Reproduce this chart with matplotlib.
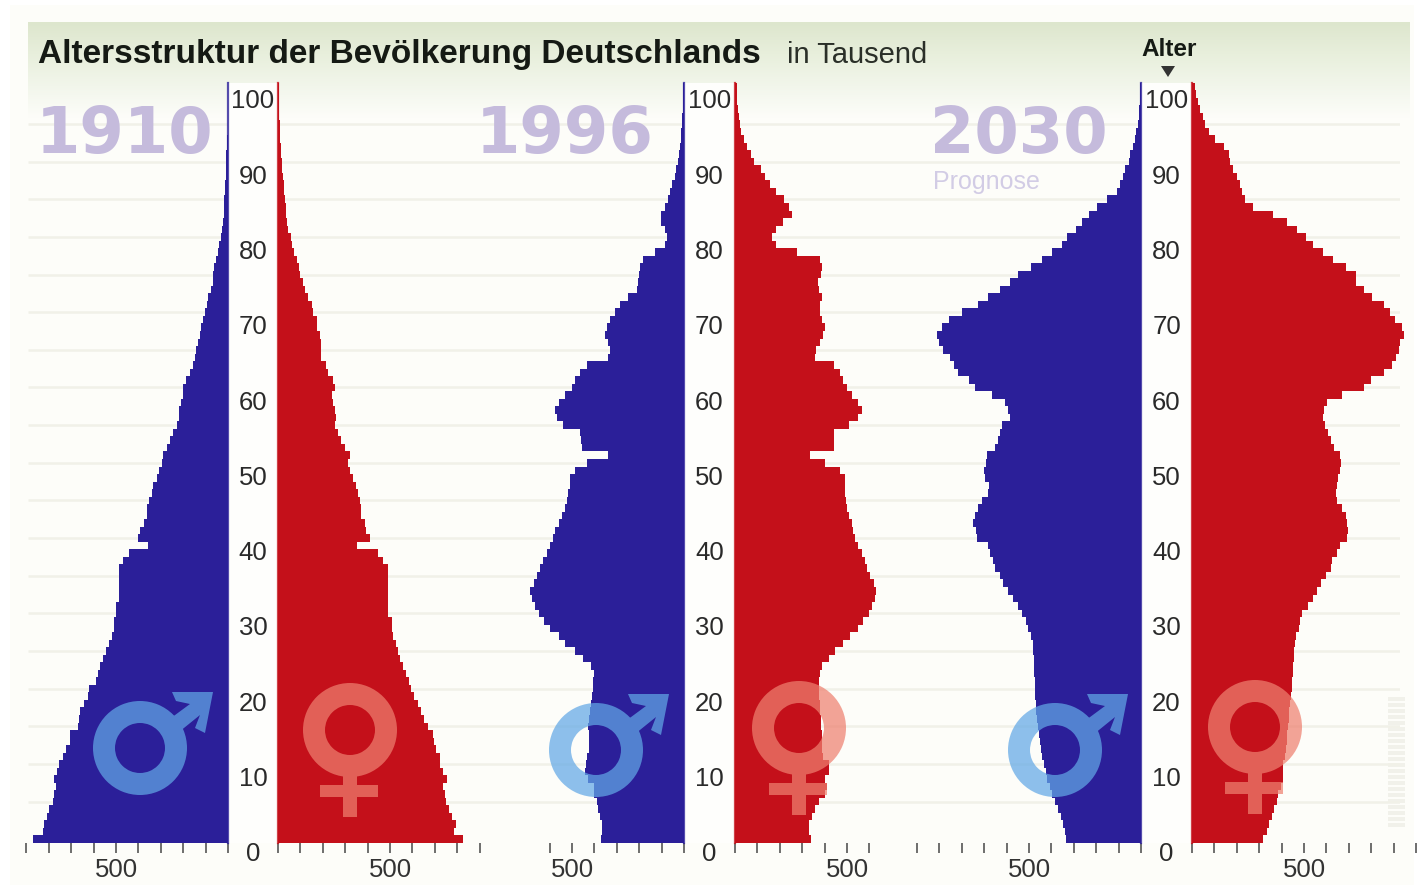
#!/usr/bin/env python3
"""Altersstruktur der Bevoelkerung Deutschlands: 1910, 1996, 2030 (age pyramids)."""
import numpy as np, matplotlib
matplotlib.use("Agg")
import matplotlib.pyplot as plt
from matplotlib.colors import LinearSegmentedColormap
from matplotlib.patches import PathPatch, Rectangle, Wedge, Polygon
from matplotlib.path import Path

W, H = 1424, 890
FONT = ["Liberation Sans", "DejaVu Sans"]
plt.rcParams.update({"font.family": FONT})

ages = list(range(101))

# thousands per single year of age, index = age
men_1910 = [870, 825, 820, 810, 800, 780, 778, 770, 778, 765,
            755, 738, 725, 705, 705, 670, 667, 660, 645, 625,
            620, 590, 580, 570, 560, 545, 533, 520, 510, 510,
            498, 498, 485, 485, 485, 485, 485, 470, 440, 355,
            400, 391, 373, 360, 360, 351, 338, 333, 316, 306,
            293, 289, 271, 258, 244, 227, 218, 218, 209, 200,
            200, 187, 169, 155, 147, 142, 133, 124, 120, 111,
            102, 93, 89, 76, 67, 65, 62, 52, 44, 40,
            31, 25, 22, 20, 18, 16, 14, 13, 11, 10,
            9, 7, 6, 3, 2, 2, 1, 1, 1, 0, 0]
women_1910 = [824, 787, 795, 779, 764, 750, 747, 735, 754, 735,
              723, 723, 705, 698, 690, 668, 653, 639, 624, 609,
              594, 587, 572, 557, 545, 535, 527, 513, 510, 510,
              490, 490, 490, 490, 490, 490, 490, 468, 446, 352,
              409, 394, 387, 372, 372, 364, 357, 350, 335, 320,
              313, 320, 298, 283, 268, 253, 261, 253, 246, 239,
              253, 246, 224, 216, 194, 194, 190, 187, 176, 172,
              157, 150, 135, 120, 110, 100, 92, 85, 72, 64,
              56, 46, 41, 37, 34, 31, 28, 25, 22, 20,
              18, 15, 13, 11, 9, 7, 6, 5, 4, 4, 3]
men_1996 = [370, 367, 367, 375, 382, 390, 400, 404, 427, 441,
            437, 431, 422, 422, 422, 427, 422, 419, 416, 412,
            407, 407, 404, 416, 449, 486, 530, 560, 597, 627,
            649, 664, 678, 689, 671, 656, 644, 630, 612, 597,
            585, 574, 560, 545, 530, 523, 516, 511, 508, 486,
            431, 338, 456, 459, 464, 538, 568, 574, 556, 530,
            501, 486, 464, 434, 338, 330, 338, 353, 345, 330,
            308, 286, 249, 212, 204, 200, 197, 182, 130, 86,
            78, 86, 101, 101, 86, 71, 61, 52, 41, 34,
            27, 24, 19, 15, 12, 10, 8, 6, 5, 4, 3]
women_1996 = [339, 329, 329, 344, 358, 373, 403, 410, 403, 418,
              418, 395, 388, 388, 388, 384, 384, 380, 378, 373,
              373, 373, 380, 388, 418, 447, 484, 514, 551, 573,
              596, 610, 625, 630, 621, 603, 588, 581, 566, 551,
              536, 529, 521, 507, 499, 495, 492, 492, 489, 470,
              403, 336, 440, 444, 444, 507, 551, 566, 551, 521,
              499, 484, 470, 440, 358, 363, 380, 395, 404, 388,
              378, 380, 388, 373, 370, 384, 388, 378, 277, 181,
              166, 181, 215, 255, 240, 218, 181, 158, 136, 114,
              87, 73, 55, 40, 28, 21, 17, 13, 11, 9, 7]
men_2030 = [333, 341, 348, 358, 372, 385, 396, 407, 418, 425,
            432, 440, 447, 451, 455, 459, 463, 467, 470, 472,
            474, 475, 477, 478, 479, 480, 484, 489, 503, 514,
            533, 548, 573, 593, 615, 630, 652, 659, 674, 681,
            733, 736, 748, 741, 726, 711, 681, 677, 696, 701,
            692, 689, 652, 637, 630, 622, 585, 593, 607, 667,
            741, 770, 815, 837, 852, 882, 904, 911, 889, 859,
            800, 726, 681, 630, 585, 551, 492, 440, 396, 351,
            329, 292, 262, 233, 196, 151, 107, 92, 80, 70,
            55, 47, 36, 25, 21, 15, 10, 8, 6, 5, 4]
women_2030 = [319, 333, 345, 356, 366, 378, 385, 396, 405, 408,
              408, 413, 418, 422, 426, 430, 432, 435, 438, 442,
              445, 448, 450, 452, 454, 456, 461, 464, 479, 483,
              493, 516, 538, 557, 575, 597, 619, 627, 649, 659,
              693, 698, 693, 689, 671, 649, 641, 649, 653, 659,
              664, 659, 634, 619, 609, 594, 585, 590, 604, 671,
              767, 797, 856, 893, 911, 923, 930, 945, 938, 908,
              886, 856, 805, 767, 730, 733, 689, 630, 585, 541,
              511, 467, 422, 363, 274, 237, 222, 215, 200, 185,
              170, 163, 141, 104, 74, 59, 49, 37, 25, 18, 14]

years = ["1910", "1996", "2030"]
men = [men_1910, men_1996, men_2030]
women = [women_1910, women_1996, women_2030]
male_edge = [228, 684, 1141]     # pixel x of the two inner axes
female_edge = [278, 735, 1192]
male_tick_max = [900, 600, 1000]
female_tick_max = [900, 600, 1000]
age_ticks = list(range(0, 101, 10))
grid_ages = list(range(5, 100, 5))

NAVY, RED = "#2B1F99", "#C4101A"
TOP, BOTTOM = 82.5, 843.0
PX = 0.224                       # pixels per thousand


def rect(x0, y0, x1, y1):
    return [x0 / W, 1 - y1 / H, (x1 - x0) / W, (y1 - y0) / H]


fig = plt.figure(figsize=(W / 100, H / 100), dpi=100, facecolor="white")

# page tint and green header band
page = fig.add_axes([0, 0, 1, 1], zorder=0)
page.set_xlim(0, W); page.set_ylim(H, 0); page.axis("off")
page.add_patch(Rectangle((10, 5), W - 20, H - 10, fc="#FDFDF9", ec="none"))
band = LinearSegmentedColormap.from_list(
    "band", ["#DDE6CD", "#E8EFDC", "#F2F6EB", "#FDFDF9"])
page.imshow(np.linspace(0, 1, 100).reshape(-1, 1), cmap=band, aspect="auto",
            extent=(28, 1410, 118, 22), zorder=1)
page.set_xlim(0, W); page.set_ylim(H, 0)
# scanner strip, bottom right
for y in range(697, 828, 6):
    page.add_patch(Rectangle((1388, y), 17, 4, fc="#F1F1EA", ec="none", zorder=1))

grid = fig.add_axes(rect(28, TOP, 1400, BOTTOM), zorder=1)
grid.patch.set_alpha(0); grid.axis("off")
grid.set_ylim(-0.5, 100.5); grid.set_xlim(0, 1)
grid.hlines(grid_ages, 0, 1, color="#F1F1E8", lw=1.8)

for i, year in enumerate(years):
    # gap holding the age labels
    mid = fig.add_axes(rect(male_edge[i], TOP, female_edge[i], BOTTOM), zorder=2)
    mid.set_xlim(0, 1); mid.set_ylim(-0.5, 100.5)
    mid.set_facecolor("#FEFEFC")
    for s in mid.spines.values():
        s.set_visible(False)
    mid.set_xticks([]); mid.set_yticks([])
    for a in age_ticks:
        # printed labels sit about 2 years below their bar
        mid.text(0.5, a - 2.0, str(a), ha="center", va="center",
                 fontsize=18.5, color="#2A2A2A")

    for side, values, edge, tick_max, color in (
            ("m", men[i], male_edge[i], male_tick_max[i], NAVY),
            ("w", women[i], female_edge[i], female_tick_max[i], RED)):
        span = 1100 * PX
        x0, x1 = (edge - span, edge) if side == "m" else (edge, edge + span)
        ax = fig.add_axes(rect(x0, TOP, x1, BOTTOM), zorder=3)
        ax.patch.set_alpha(0)
        ax.barh(ages, values, height=1.0, color=color, lw=0)
        ax.axvline(0, color=color, lw=1.6, alpha=0.8, clip_on=False)
        ax.set_xlim((1100, 0) if side == "m" else (0, 1100))
        ax.set_ylim(-0.5, 100.5)
        for s in ax.spines.values():
            s.set_visible(False)
        ax.set_yticks([])
        ticks = list(range(0, tick_max + 1, 100))
        ax.set_xticks(ticks)
        ax.set_xticklabels(["500" if t == 500 else "" for t in ticks],
                           fontsize=18.5, color="#333333")
        ax.tick_params(axis="x", length=7, width=1.2, color="#555555", pad=4)

# overlay in pixel coordinates: headline, years, sex symbols
top = fig.add_axes([0, 0, 1, 1], zorder=4)
top.patch.set_alpha(0); top.axis("off")
top.set_xlim(0, W); top.set_ylim(H, 0)

top.text(38, 55, "Altersstruktur der Bevölkerung Deutschlands",
         fontweight="bold", fontsize=24, color="#151A14", ha="left", va="center")
top.text(787, 55, "in Tausend", fontsize=21, color="#2A2F28",
         ha="left", va="center")
top.text(1169, 50, "Alter", fontweight="bold", fontsize=17.5,
         color="#151A14", ha="center", va="center")
top.add_patch(Polygon([(1161, 66), (1175, 66), (1168, 77)], fc="#333333", ec="none"))

for x, year in zip([36, 476, 930], years):
    top.text(x, 135, year, family=["DejaVu Sans"], fontweight="bold",
             fontsize=46, color="#C5BBDC", ha="left", va="center")
top.text(933, 182, "Prognose", fontsize=18, color="#D2CCE5",
         ha="left", va="center")


def ccw(points):
    pts = np.array(points, float)
    area = np.sum(pts[:, 0] * np.roll(pts[:, 1], -1) - np.roll(pts[:, 0], -1) * pts[:, 1])
    return pts if area > 0 else pts[::-1]


def symbol(cx, cy, points, color):
    wedge = Wedge((cx, cy), 47, 0, 360, width=22)
    ring = wedge.get_path().transformed(wedge.get_patch_transform())
    shape = ccw([(cx + dx, cy + dy) for dx, dy in points])
    shape = Path(np.vstack([shape, shape[:1]]), closed=True)
    top.add_patch(PathPatch(Path.make_compound_path(ring, shape), fc=color,
                            ec="none", alpha=0.72))


MALE = [(73, -56), (32, -56), (36, -47), (50, -44), (27, -27), (39, -16),
        (60, -33), (55, -20), (65, -15)]
FEMALE = [(-7, 44), (7, 44), (7, 55), (28, 55), (28, 67), (7, 67), (7, 87),
          (-7, 87), (-7, 67), (-30, 67), (-30, 55), (-7, 55)]
for cx, cy in [(140, 748), (596, 750), (1055, 750)]:
    symbol(cx, cy, MALE, "#62A8E6")
for cx, cy in [(350, 730), (799, 728), (1255, 727)]:
    symbol(cx, cy, FEMALE, "#EE8070")

fig.savefig("out.png", dpi=100, facecolor="white")
